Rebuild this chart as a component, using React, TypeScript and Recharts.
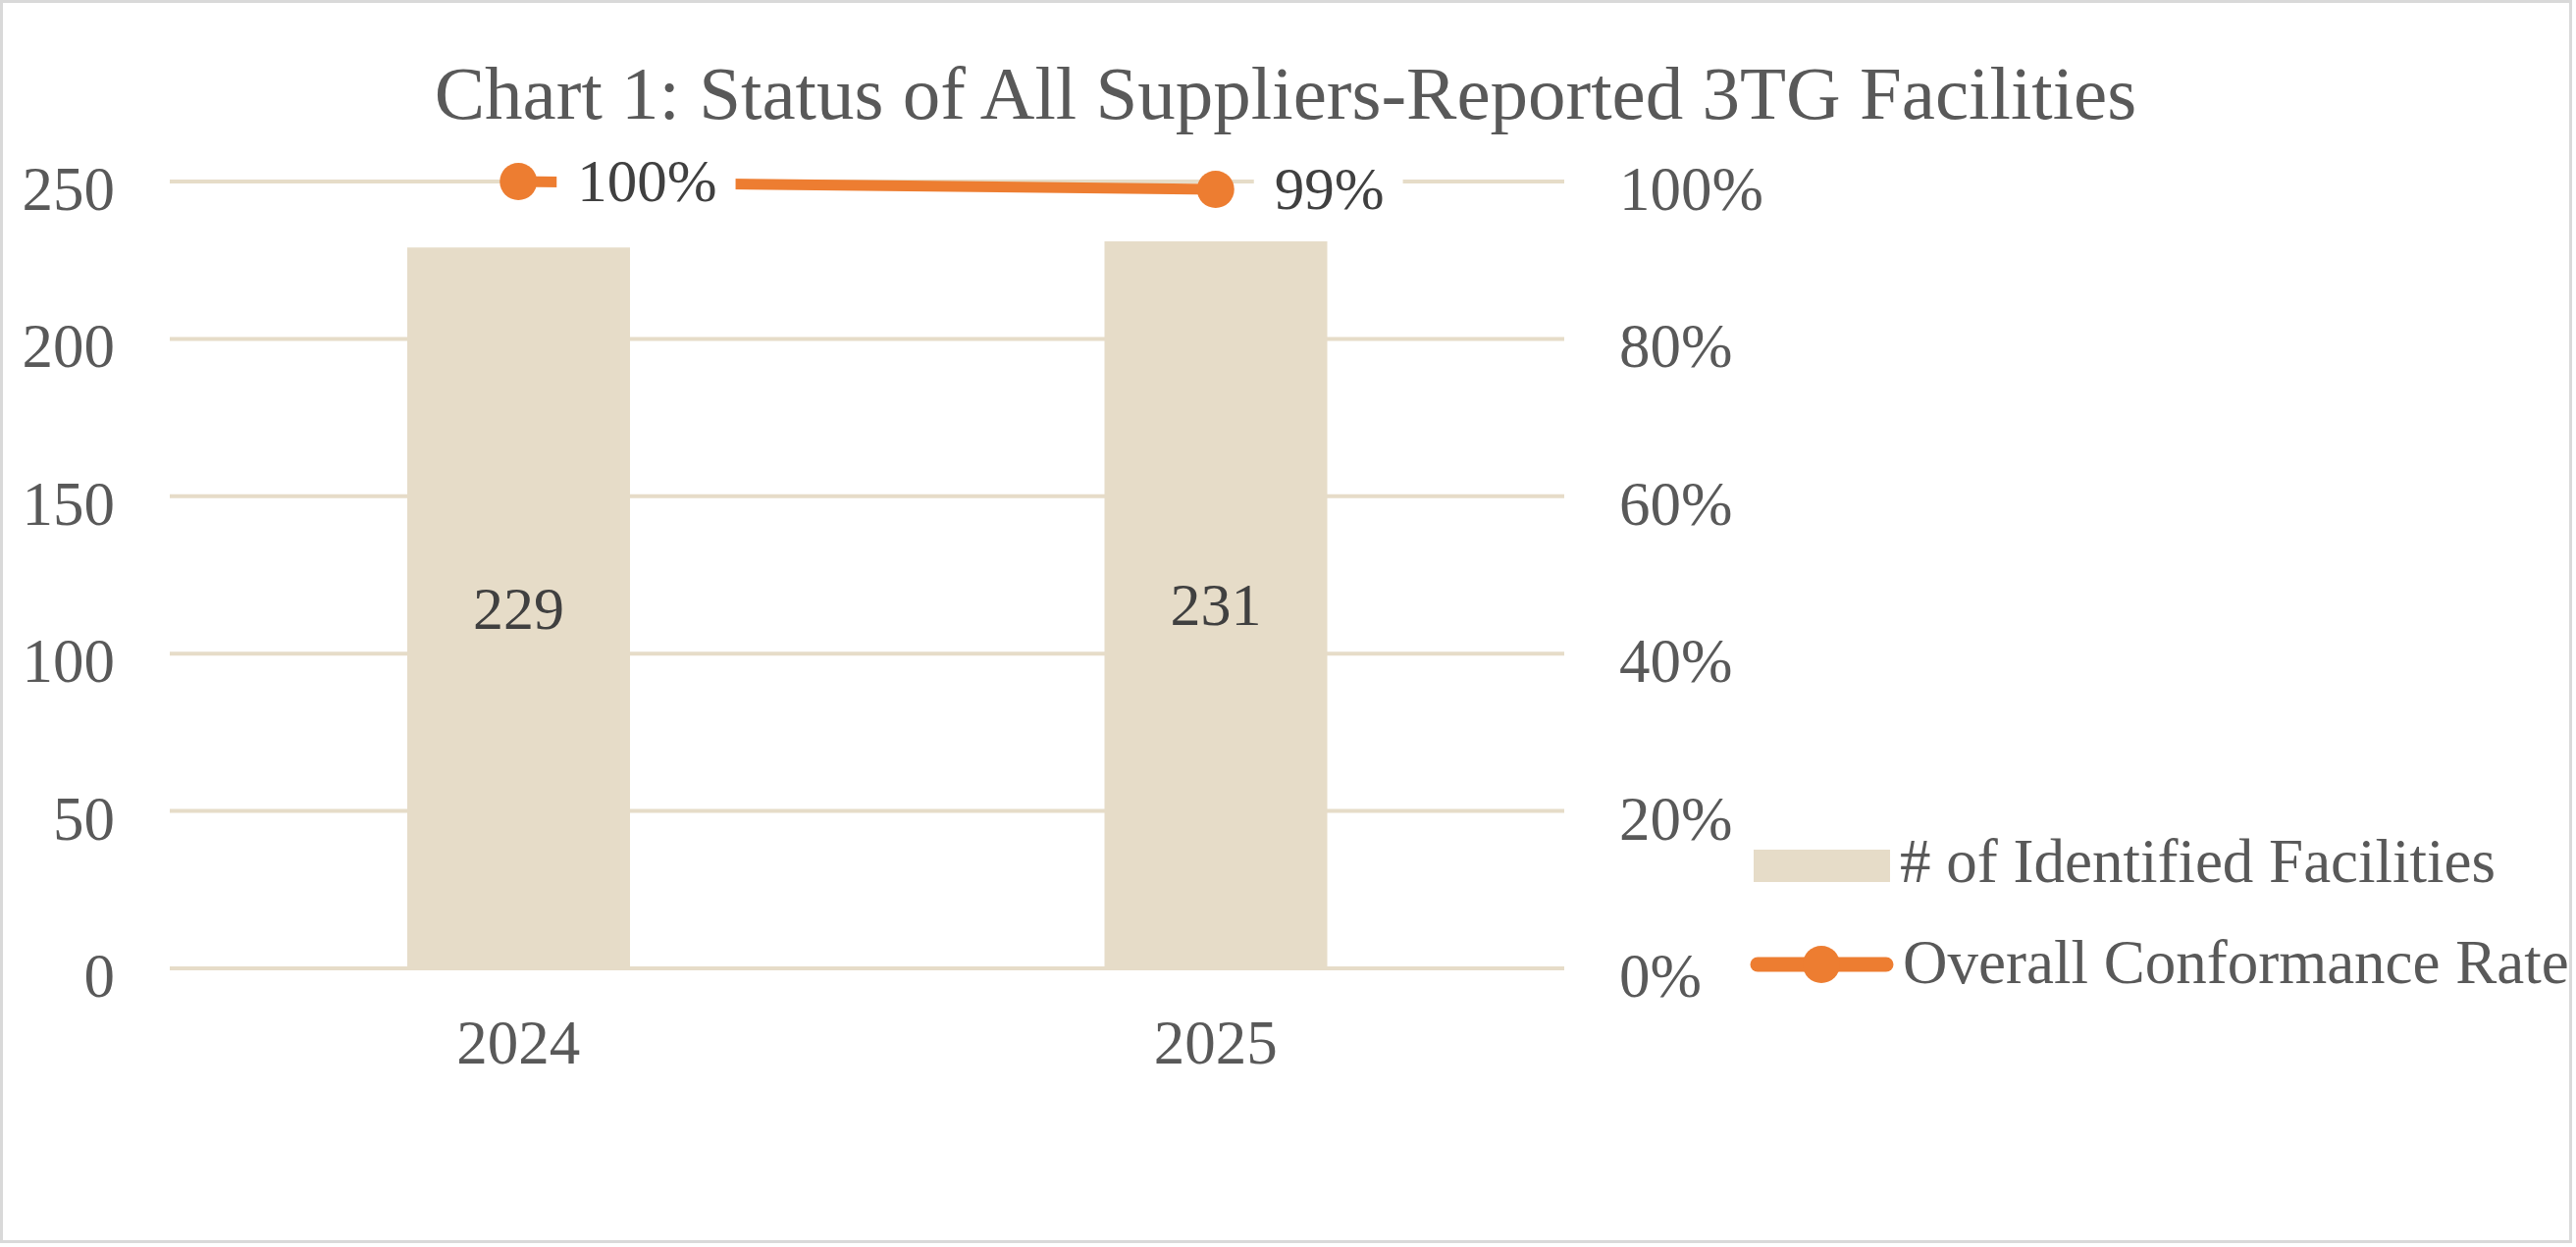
import { Bar, CartesianGrid, ComposedChart, LabelList, Line, XAxis, YAxis } from 'recharts';

const years = ['2024', '2025'];
const facilities = [229, 231];
const conformance = [1.0, 0.99];
const leftTicks = [0, 50, 100, 150, 200, 250];
const rightTicks = [0, 0.2, 0.4, 0.6, 0.8, 1];

const TITLE = 'Chart 1: Status of All Suppliers-Reported 3TG Facilities';
const BAR_NAME = '# of Identified Facilities';
const LINE_NAME = 'Overall Conformance Rate';

const FONT = "'Times New Roman', 'Liberation Serif', serif";
const BEIGE = '#E6DCC8';
const ORANGE = '#ED7D31';
const AXIS_GRAY = '#595959';
const LABEL_GRAY = '#404040';

const data = years.map((year, i) => ({
  year,
  facilities: facilities[i],
  rate: conformance[i],
}));

const pct = (v: number) => `${Math.round(v * 100)}%`;

// rough Times width, good enough to size the white box behind a label
function textWidth(s: string, size: number) {
  let w = 0;
  for (const ch of s) w += ch === '%' ? 0.833 : 0.5;
  return w * size;
}

function LeftTick({ x, y, payload }: any) {
  return (
    <text x={x} y={y + 29} textAnchor="end" fontFamily={FONT} fontSize={63} fill={AXIS_GRAY}>
      {payload.value}
    </text>
  );
}

function RightTick({ x, y, payload }: any) {
  return (
    <text x={x} y={y + 29} textAnchor="start" fontFamily={FONT} fontSize={63} fill={AXIS_GRAY}>
      {pct(payload.value)}
    </text>
  );
}

function YearTick({ x, y, payload }: any) {
  return (
    <text x={x} y={y + 97} textAnchor="middle" fontFamily={FONT} fontSize={63} fill={AXIS_GRAY}>
      {payload.value}
    </text>
  );
}

function BarValue({ x, y, width, height, value }: any) {
  return (
    <text
      x={x + width / 2}
      y={y + height / 2 + 21}
      textAnchor="middle"
      fontFamily={FONT}
      fontSize={62}
      fill={LABEL_GRAY}
    >
      {value}
    </text>
  );
}

function RateValue({ x, y, value }: any) {
  const label = pct(value);
  const w = textWidth(label, 61);
  return (
    <g>
      <rect x={x + 39} y={y - 34} width={w + 40} height={68} fill="#FFFFFF" />
      <text x={x + 60} y={y + 20} fontFamily={FONT} fontSize={61} fill={LABEL_GRAY}>
        {label}
      </text>
    </g>
  );
}

export default function App() {
  return (
    <div style={{ position: 'absolute', left: 0, top: 0, width: 2625, height: 1271, background: '#FFFFFF' }}>
      <ComposedChart
        width={2625}
        height={1271}
        data={data}
        margin={{ top: 185, right: 831, bottom: 184, left: 53 }}
        barCategoryGap="34%"
      >
        <CartesianGrid yAxisId="left" vertical={false} stroke={BEIGE} strokeWidth={4} />
        <XAxis
          dataKey="year"
          axisLine={false}
          tickLine={false}
          tickSize={0}
          tickMargin={0}
          height={100}
          tick={<YearTick />}
        />
        <YAxis
          yAxisId="left"
          domain={[0, 250]}
          ticks={leftTicks}
          axisLine={false}
          tickLine={false}
          tickSize={0}
          tickMargin={56}
          width={120}
          tick={<LeftTick />}
        />
        <YAxis
          yAxisId="right"
          orientation="right"
          domain={[0, 1]}
          ticks={rightTicks}
          axisLine={false}
          tickLine={false}
          tickSize={0}
          tickMargin={56}
          width={200}
          tick={<RightTick />}
        />
        <Bar yAxisId="left" dataKey="facilities" name={BAR_NAME} fill={BEIGE} barSize={227} isAnimationActive={false}>
          <LabelList dataKey="facilities" content={<BarValue />} />
        </Bar>
        <Line
          yAxisId="right"
          dataKey="rate"
          name={LINE_NAME}
          stroke={ORANGE}
          strokeWidth={11}
          dot={{ r: 19, fill: ORANGE, stroke: 'none' }}
          activeDot={false}
          isAnimationActive={false}
        >
          <LabelList dataKey="rate" content={<RateValue />} />
        </Line>
      </ComposedChart>

      <svg
        width={2625}
        height={1271}
        style={{ position: 'absolute', left: 0, top: 0, pointerEvents: 'none' }}
      >
        <text x={1310} y={121} textAnchor="middle" fontFamily={FONT} fontSize={77} fill={AXIS_GRAY}>
          {TITLE}
        </text>

        {/* legend */}
        <rect x={1787} y={866} width={139} height={33} fill={BEIGE} />
        <text x={1936} y={899} fontFamily={FONT} fontSize={63} fill={AXIS_GRAY}>
          {BAR_NAME}
        </text>
        <line x1={1791} y1={983} x2={1922} y2={983} stroke={ORANGE} strokeWidth={15} strokeLinecap="round" />
        <circle cx={1856} cy={983} r={19} fill={ORANGE} />
        <text x={1939} y={1002} fontFamily={FONT} fontSize={63} fill={AXIS_GRAY}>
          {LINE_NAME}
        </text>

        {/* chart border */}
        <rect x={1.5} y={1.5} width={2618} height={1264} fill="none" stroke="#D9D9D9" strokeWidth={3} />
      </svg>
    </div>
  );
}
